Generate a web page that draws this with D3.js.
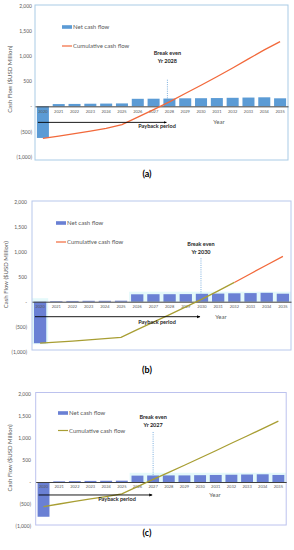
<!DOCTYPE html>
<html>
<head>
<meta charset="utf-8">
<script src="https://cdn.jsdelivr.net/npm/d3@7"></script>
<style>
  html, body { margin: 0; padding: 0; background: #fff; }
  svg { display: block; }
  text { font-family: Lato, "Open Sans", sans-serif; }
</style>
</head>
<body>
<div class="chart"></div>
<script>
var years = ["2020", "2021", "2022", "2023", "2024", "2025", "2026", "2027",
             "2028", "2029", "2030", "2031", "2032", "2033", "2034", "2035"];
var yTicks = [-1000, -500, 0, 500, 1000, 1500, 2000];

// (a)
var netA = [-630, 45, 48, 52, 55, 58, 150, 152, 155, 160, 162, 165, 170, 175, 180, 160];
var cumA = [-640, -595, -545, -495, -440, -365, -215, -65, 90, 255, 420, 590, 765, 945, 1125, 1290];
// (b)
var netB = [-830, 12, 15, 18, 18, 20, 148, 150, 150, 152, 158, 162, 168, 172, 178, 160];
var cumB = [-830, -810, -790, -765, -740, -715, -560, -410, -260, -105, 50, 215, 385, 560, 735, 905];
// (c)
var netC = [-790, 15, 20, 25, 28, 30, 145, 148, 150, 150, 155, 160, 165, 170, 175, 160];
var cumC = [-560, -500, -440, -385, -330, -270, -105, 60, 220, 380, 545, 710, 880, 1045, 1215, 1385];

var breakEvenYears = ["2028", "2030", "2027"];
var panelLabels = ["(a)", "(b)", "(c)"];

var orange = "#f2693b",
    olive = "#a89e33";

var panels = [
  {net: netA, cum: cumA, left: 35, right: 288, top: 6, bottom: 156.5, boxTop: 5, boxBottom: 160,
   tickX: 32, titleX: 10, barColor: "#5b9bd5", border: "#a9cbe6",
   segments: [[0, 15, orange]], legendLine: orange, legendX: 62, legendY: 27, legendGap: 19,
   arrowY: -320, paybackX: 157, paybackY: -430, yearX: 219, yearY: -350,
   beText: 1030, beLine: 530, beOff: -2,
   labelY: 177, highlights: []},
  {net: netB, cum: cumB, left: 32, right: 291, top: 201.7, bottom: 351.7, boxTop: 201, boxBottom: 350,
   tickX: 27, titleX: 6, barColor: "#6a80d4", border: "#b8c8ec",
   segments: [[0, 12, olive], [12, 15, orange]], legendLine: orange, legendX: 56, legendY: 223, legendGap: 19,
   arrowY: -300, paybackX: 157, paybackY: -450, yearX: 221, yearY: -350,
   beText: 1114, beLine: 868, beOff: -1,
   labelY: 373, highlights: [["2026", "2035", 0, 200], ["2020", "2020", -850, 70]]},
  {net: netC, cum: cumC, left: 35.7, right: 286.2, top: 394, bottom: 526, boxTop: 392.5, boxBottom: 525,
   tickX: 31, titleX: 10, barColor: "#6a80d4", border: "#bcc2ee",
   segments: [[0, 15, olive]], legendLine: olive, legendX: 58, legendY: 413, legendGap: 17.5,
   arrowY: -295, paybackX: 117, paybackY: -430, yearX: 215, yearY: -330,
   beText: 1430, beLine: 1136, beOff: 0,
   labelY: 536, highlights: [["2026", "2035", 0, 210]]}
];

var svg = d3.select(".chart")
    .append("svg")
    .attr("width", 294)
    .attr("height", 550);

svg.append("defs").append("marker")
    .attr("id", "arrow")
    .attr("viewBox", "0 0 10 10")
    .attr("refX", 8)
    .attr("refY", 5)
    .attr("markerWidth", 4)
    .attr("markerHeight", 4)
    .attr("orient", "auto")
  .append("path")
    .attr("d", "M0,1L9,5L0,9Z")
    .attr("fill", "#000");

function fmt(v) {
  if (v === 0) return "-";
  if (v < 0) return "(" + d3.format(",")(-v) + ")";
  return d3.format(",")(v);
}

panels.forEach(function(p, k) {
  var g = svg.append("g");

  var x = d3.scaleBand()
      .domain(years)
      .range([p.left, p.right])
      .paddingInner(0.24)
      .paddingOuter(0.12);

  var y = d3.scaleLinear()
      .domain([-1000, 2000])
      .range([p.bottom, p.top]);

  var cx = function(d) { return x(d) + x.bandwidth() / 2; };

  // faint highlight patches
  p.highlights.forEach(function(h) {
    g.append("rect")
        .attr("x", x(h[0]) - x.step() * 0.12)
        .attr("width", x(h[1]) + x.bandwidth() + x.step() * 0.12 - x(h[0]) + x.step() * 0.12)
        .attr("y", y(h[3]))
        .attr("height", y(h[2]) - y(h[3]))
        .attr("fill", "#e4f9fa");
  });

  // plot border
  g.append("rect")
      .attr("x", p.left)
      .attr("y", p.boxTop)
      .attr("width", p.right - p.left)
      .attr("height", p.boxBottom - p.boxTop)
      .attr("fill", "none")
      .attr("stroke", p.border)
      .attr("stroke-width", 1);

  // bars
  g.append("g")
      .attr("fill", p.barColor)
    .selectAll("rect")
    .data(p.net)
    .enter().append("rect")
      .attr("x", function(d, i) { return x(years[i]); })
      .attr("y", function(d) { return y(Math.max(0, d)); })
      .attr("width", x.bandwidth())
      .attr("height", function(d) { return Math.abs(y(d) - y(0)); });

  // y axis
  var ya = g.append("g")
      .attr("transform", "translate(" + p.tickX + ",0)")
      .call(d3.axisLeft(y).tickValues(yTicks).tickSize(0).tickPadding(0).tickFormat(fmt));
  ya.select(".domain").remove();
  ya.selectAll("text")
      .attr("font-family", "Lato, sans-serif")
      .attr("font-size", 5)
      .attr("fill", "#595959");

  // x axis on zero line
  var xa = g.append("g")
      .attr("transform", "translate(0," + y(0) + ")")
      .call(d3.axisBottom(x).tickSize(0).tickPadding(3.5));
  xa.select(".domain")
      .attr("stroke", "#404040")
      .attr("stroke-width", 1);
  xa.selectAll("text")
      .attr("font-family", "Lato, sans-serif")
      .attr("font-size", 4)
      .attr("fill", "#595959");

  // cumulative line
  var line = d3.line()
      .x(function(d) { return cx(d[0]); })
      .y(function(d) { return y(d[1]); });
  p.segments.forEach(function(s) {
    var pts = d3.range(s[0], s[1] + 1).map(function(i) { return [years[i], p.cum[i]]; });
    g.append("path")
        .attr("d", line(pts))
        .attr("fill", "none")
        .attr("stroke", s[2])
        .attr("stroke-width", 1.3);
  });

  // break even
  var bx = cx(breakEvenYears[k]) + p.beOff;
  g.append("line")
      .attr("x1", bx).attr("x2", bx)
      .attr("y1", y(p.beLine))
      .attr("y2", y(p.net[years.indexOf(breakEvenYears[k])]))
      .attr("stroke", "#5b9bd5")
      .attr("stroke-width", 0.8)
      .attr("stroke-dasharray", "1,1.2");
  g.append("text")
      .attr("x", bx)
      .attr("y", y(p.beText))
      .attr("text-anchor", "middle")
      .attr("font-size", 5.5)
      .attr("font-weight", "bold")
      .attr("fill", "#262626")
      .text("Break even");
  g.append("text")
      .attr("x", bx)
      .attr("y", y(p.beText) + 8)
      .attr("text-anchor", "middle")
      .attr("font-size", 5.5)
      .attr("font-weight", "bold")
      .attr("fill", "#262626")
      .text("Yr " + breakEvenYears[k]);

  // payback arrow
  g.append("line")
      .attr("x1", x(years[0]) + 1)
      .attr("x2", bx - 1)
      .attr("y1", y(p.arrowY))
      .attr("y2", y(p.arrowY))
      .attr("stroke", "#000")
      .attr("stroke-width", 0.9)
      .attr("marker-end", "url(#arrow)");
  g.append("text")
      .attr("x", p.paybackX)
      .attr("y", y(p.paybackY))
      .attr("text-anchor", "middle")
      .attr("font-size", 5.5)
      .attr("font-weight", "bold")
      .attr("fill", "#262626")
      .text("Payback period");

  g.append("text")
      .attr("x", p.yearX)
      .attr("y", y(p.yearY))
      .attr("text-anchor", "middle")
      .attr("font-size", 6)
      .attr("fill", "#595959")
      .text("Year");

  // y title
  g.append("text")
      .attr("transform", "translate(" + p.titleX + "," + ((p.top + p.bottom) / 2 - 2) + ") rotate(-90)")
      .attr("text-anchor", "middle")
      .attr("dy", "0.35em")
      .attr("font-size", 6)
      .attr("fill", "#595959")
      .text("Cash Flow ($USD Million)");

  // legend
  var lg = g.append("g")
      .attr("transform", "translate(" + p.legendX + "," + p.legendY + ")");
  lg.append("rect")
      .attr("x", 0).attr("y", -1.8)
      .attr("width", 10).attr("height", 3.6)
      .attr("fill", p.barColor);
  lg.append("text")
      .attr("x", 11).attr("dy", "0.35em")
      .attr("font-size", 6)
      .attr("fill", "#595959")
      .text("Net cash flow");
  lg.append("line")
      .attr("x1", 0).attr("x2", 10)
      .attr("y1", p.legendGap).attr("y2", p.legendGap)
      .attr("stroke", p.legendLine)
      .attr("stroke-width", 1.2);
  lg.append("text")
      .attr("x", 11).attr("y", p.legendGap).attr("dy", "0.35em")
      .attr("font-size", 6)
      .attr("fill", "#595959")
      .text("Cumulative cash flow");

  // panel label
  svg.append("text")
      .attr("x", 147)
      .attr("y", p.labelY)
      .attr("text-anchor", "middle")
      .attr("font-family", "'Liberation Serif', serif")
      .attr("font-size", 9)
      .attr("font-weight", "bold")
      .attr("fill", "#000")
      .text(panelLabels[k]);
});
</script>
</body>
</html>
